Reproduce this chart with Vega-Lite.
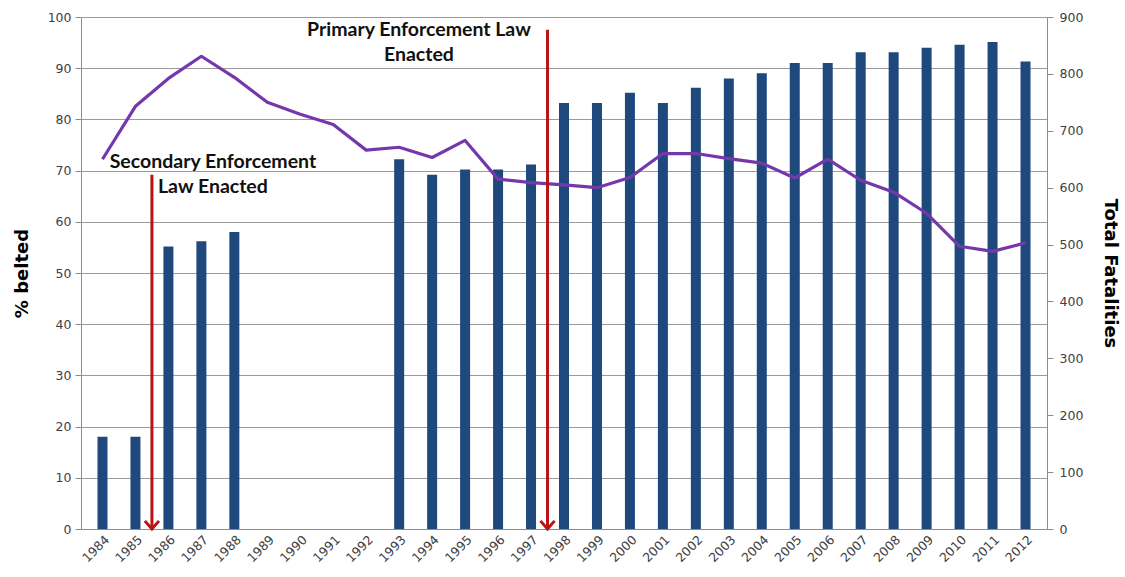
{
  "$schema": "https://vega.github.io/schema/vega-lite/v6.json",
  "autosize": "none",
  "width": 966,
  "height": 512,
  "padding": {"left": 81, "top": 17, "right": 78, "bottom": 48},
  "background": "white",
  "config": {
    "view": {"stroke": null},
    "axis": {"labelFont": "DejaVu Sans", "labelColor": "#404040", "labelFontSize": 12.5, "titleFont": "DejaVu Sans", "titleFontWeight": "bold", "titleColor": "black", "titleFontSize": 18, "domainColor": "#8C8C8C", "tickColor": "#8C8C8C", "gridColor": "#9A9A9A"}
  },
  "datasets": {
    "years": [
      {"year": 1984, "belted": 18, "fatalities": 650},
      {"year": 1985, "belted": 18, "fatalities": 743},
      {"year": 1986, "belted": 55.2, "fatalities": 792},
      {"year": 1987, "belted": 56.2, "fatalities": 831},
      {"year": 1988, "belted": 58, "fatalities": 794},
      {"year": 1989, "belted": null, "fatalities": 750},
      {"year": 1990, "belted": null, "fatalities": 729},
      {"year": 1991, "belted": null, "fatalities": 711},
      {"year": 1992, "belted": null, "fatalities": 666},
      {"year": 1993, "belted": 72.2, "fatalities": 671},
      {"year": 1994, "belted": 69.2, "fatalities": 653},
      {"year": 1995, "belted": 70.2, "fatalities": 683},
      {"year": 1996, "belted": 70.2, "fatalities": 615},
      {"year": 1997, "belted": 71.2, "fatalities": 609},
      {"year": 1998, "belted": 83.2, "fatalities": 605},
      {"year": 1999, "belted": 83.2, "fatalities": 600},
      {"year": 2000, "belted": 85.2, "fatalities": 618},
      {"year": 2001, "belted": 83.2, "fatalities": 660},
      {"year": 2002, "belted": 86.2, "fatalities": 660},
      {"year": 2003, "belted": 88, "fatalities": 651},
      {"year": 2004, "belted": 89, "fatalities": 643},
      {"year": 2005, "belted": 91, "fatalities": 617},
      {"year": 2006, "belted": 91, "fatalities": 650},
      {"year": 2007, "belted": 93.1, "fatalities": 613},
      {"year": 2008, "belted": 93.1, "fatalities": 592},
      {"year": 2009, "belted": 94, "fatalities": 555},
      {"year": 2010, "belted": 94.6, "fatalities": 497},
      {"year": 2011, "belted": 95.1, "fatalities": 488},
      {"year": 2012, "belted": 91.3, "fatalities": 503}
    ],
    "laws": [
      {"when": 1985.5, "top": 69.2, "bottom": 0},
      {"when": 1997.5, "top": 97.5, "bottom": 0}
    ],
    "notes": [
      {"when": 1987.35, "pct": 71.6, "label": ["Secondary Enforcement", "Law Enacted"]},
      {"when": 1993.6, "pct": 97.5, "label": ["Primary Enforcement Law", "Enacted"]}
    ]
  },
  "encoding": {
    "x": {
      "field": "year",
      "type": "quantitative",
      "scale": {"domain": [1983.5, 2012.5], "nice": false, "zero": false},
      "axis": {"values": [1984,1985,1986,1987,1988,1989,1990,1991,1992,1993,1994,1995,1996,1997,1998,1999,2000,2001,2002,2003,2004,2005,2006,2007,2008,2009,2010,2011,2012], "format": "d", "labelAngle": -45, "ticks": false, "grid": false, "title": null, "labelPadding": 4, "labelFontSize": 12.5, "domainColor": "#8C8C8C"}
    }
  },
  "layer": [
    {
      "data": {"name": "years"},
      "mark": {"type": "bar", "width": 10, "color": "#1F497D"},
      "encoding": {
        "y": {
          "field": "belted",
          "type": "quantitative",
          "scale": {"domain": [0, 100], "nice": false},
          "axis": {"orient": "left", "title": "% belted", "values": [0,10,20,30,40,50,60,70,80,90,100], "grid": true, "tickSize": 6, "labelPadding": 4, "titlePadding": 16}
        }
      }
    },
    {
      "data": {"name": "years"},
      "mark": {"type": "line", "color": "#7538AC", "strokeWidth": 3.2, "strokeJoin": "round"},
      "encoding": {
        "y": {
          "field": "fatalities",
          "type": "quantitative",
          "scale": {"domain": [0, 900], "nice": false},
          "axis": {"orient": "right", "title": "Total Fatalities", "values": [0,100,200,300,400,500,600,700,800,900], "grid": false, "tickSize": 6, "labelPadding": 6, "titlePadding": 18, "domain": true}
        }
      }
    },
    {
      "data": {"name": "laws"},
      "mark": {"type": "rule", "color": "#B81414", "strokeWidth": 3},
      "encoding": {
        "x": {"field": "when", "type": "quantitative"},
        "y": {"field": "top", "type": "quantitative", "scale": {"domain": [0, 100], "nice": false}, "axis": null},
        "y2": {"field": "bottom"}
      }
    },
    {
      "data": {"name": "laws"},
      "mark": {"type": "point", "shape": "M -1 -1.15 L 0 0 L 1 -1.15", "filled": false, "stroke": "#B81414", "strokeWidth": 3, "size": 200, "opacity": 1, "strokeJoin": "miter"},
      "encoding": {
        "x": {"field": "when", "type": "quantitative"},
        "y": {"field": "bottom", "type": "quantitative", "scale": {"domain": [0, 100], "nice": false}, "axis": null}
      }
    },
    {
      "data": {"name": "notes"},
      "mark": {"type": "text", "font": "Lato", "fontWeight": "bold", "fontSize": 19.5, "color": "#111111", "align": "center", "baseline": "middle", "lineHeight": 25},
      "encoding": {
        "x": {"field": "when", "type": "quantitative"},
        "y": {"field": "pct", "type": "quantitative", "scale": {"domain": [0, 100], "nice": false}, "axis": null},
        "text": {"field": "label"}
      }
    }
  ],
  "resolve": {"scale": {"y": "independent"}, "axis": {"y": "independent"}}
}
